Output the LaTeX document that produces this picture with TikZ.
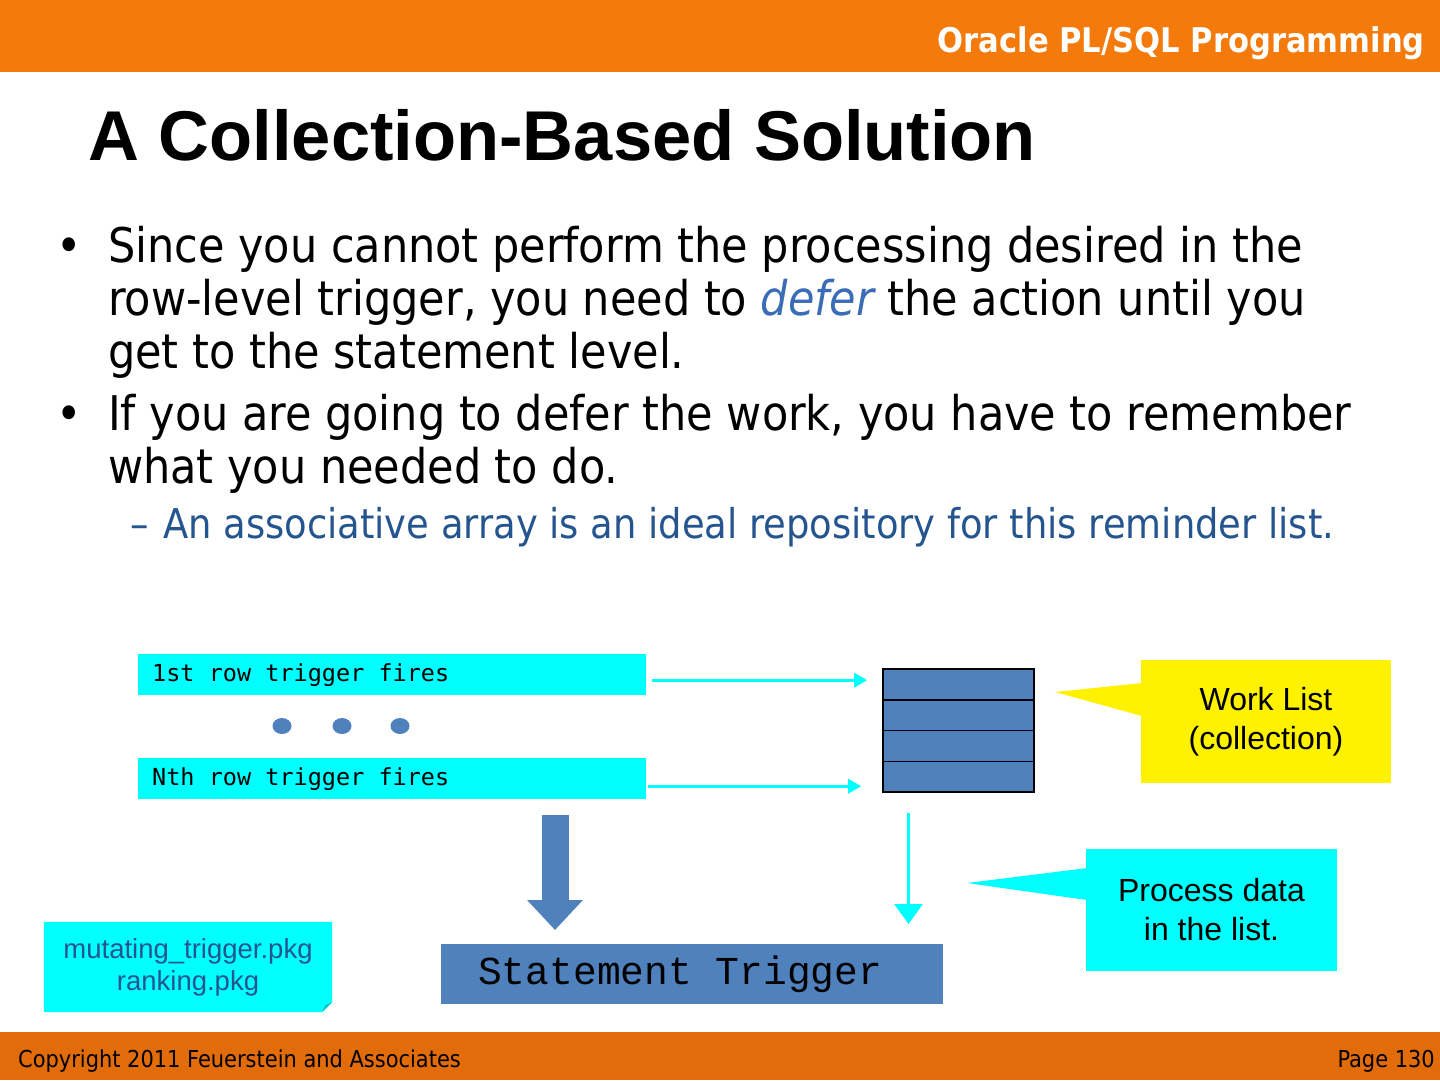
\documentclass[tikz,border=0pt]{standalone}
\usepackage{fontspec}
\setmainfont{DejaVu Sans Condensed}
\newfontfamily\titlefont{Liberation Sans}
\newfontfamily\calloutfont{Liberation Sans}
\newfontfamily\rowfont{DejaVu Sans Mono}
\newfontfamily\stmtfont{Liberation Mono}
\usepackage{tikz}
\usetikzlibrary{arrows.meta,positioning,calc,shapes.geometric,backgrounds}
\definecolor{headorange}{HTML}{F47A0C}
\definecolor{footorange}{HTML}{E36C0A}
\definecolor{plsqlblue}{HTML}{4F81BD}
\definecolor{subblue}{HTML}{24558F}
\definecolor{deferblue}{HTML}{3A6DB5}
\definecolor{notecyan}{HTML}{00FFFF}
\definecolor{foldcyan}{HTML}{00C8C8}
% one character cell of the code fonts
\newcommand\codegap{\kern\fontcharwd\font`\M\relax}

\begin{document}
\begin{tikzpicture}[
  x=1pt,y=-1pt,
  bar/.style={anchor=north west,minimum width=1440pt,inner sep=0pt,outer sep=0pt},
  rowbox/.style={anchor=north west,fill=notecyan,minimum height=41pt,text width=480pt,inner xsep=14pt,inner ysep=0pt,align=left,font=\rowfont\fontsize{23.5}{28}\selectfont},
  cell/.style={draw=black,line width=1.6pt,fill=plsqlblue,minimum width=151pt,minimum height=30.75pt,inner sep=0pt},
  dot/.style={ellipse,fill=plsqlblue,minimum width=19pt,minimum height=16pt,inner sep=0pt},
  callbox/.style={minimum width=250pt,minimum height=123pt,align=center,inner sep=0pt,font=\calloutfont\fontsize{32}{39}\selectfont},
  cyanarrow/.style={-{Triangle[width=14pt,length=13pt]},line width=3pt,draw=notecyan},
  bigarrow/.style={-{Triangle[width=54pt,length=30pt]},line width=27pt,draw=plsqlblue},
  bodytext/.style={anchor=base west,align=left,inner sep=0pt,font=\fontsize{47.8}{53}\selectfont},
  subtext/.style={anchor=base west,inner sep=0pt,text=subblue,font=\fontsize{41}{48}\selectfont}
]
\useasboundingbox (0,0) rectangle (1440,1080);

% header and title
\node[bar,fill=headorange,minimum height=72pt] (header) at (0,0) {};
\node[anchor=base east,text=white,inner sep=0pt,font=\bfseries\fontsize{34}{40}\selectfont] (course) at (1425,52) {Oracle PL/SQL Programming};
\node[anchor=base west,inner sep=0pt,font=\titlefont\bfseries\fontsize{70.5}{80}\selectfont] (title) at (88,160) {A Collection-Based Solution};

% bullets (base = last line)
\node[bodytext] (b1dot) at (56,262) {•};
\node[bodytext] (b1) at (108,368) {Since you cannot perform the processing desired in the\\
  row-level trigger, you need to \textcolor{deferblue}{\itshape defer} the action until you\\
  get to the statement level.};
\node[bodytext] (b2dot) at (56,430) {•};
\node[bodytext] (b2) at (108,483) {If you are going to defer the work, you have to remember\\
  what you needed to do.};
\node[subtext] (s1dash) at (130,538) {–};
\node[subtext] (s1) at (163,538) {An associative array is an ideal repository for this reminder list.};

% row triggers
\node[rowbox] (first) at (138,654) {1st\codegap row\codegap trigger\codegap fires};
\node[rowbox] (nth) at (138,758) {Nth\codegap row\codegap trigger\codegap fires};
\foreach \i/\x in {1/282,2/342,3/400}
  \node[dot] (dot\i) at (\x,726) {};

% work list
\foreach \i in {0,...,3}
  \node[cell] (cell\i) at (958.5,684.5+30.75*\i) {};

\draw[cyanarrow] ([xshift=6pt,yshift=-5.5pt]first.east) -- ([xshift=-15pt,yshift=-5.5pt]first.east -| cell0.west);
\draw[cyanarrow] ([xshift=2pt,yshift=-7.5pt]nth.east) -- ([xshift=-21pt,yshift=-7.5pt]nth.east -| cell3.west);

% callouts
\node[callbox,fill=yellow] (worklist) at (1266,721.5) {Work List\\(collection)};
\coordinate (wltip) at (1055,692);
\fill[yellow] ([xshift=1pt,yshift=38.5pt]worklist.west) -- (wltip) -- ([xshift=1pt,yshift=5.5pt]worklist.west) -- cycle;

\node[callbox,fill=notecyan,minimum width=251pt,minimum height=122pt] (process) at (1211.5,910) {Process data\\in the list.};
\coordinate (pdtip) at (967,883);
\fill[notecyan] ([xshift=1pt,yshift=42pt]process.west) -- (pdtip) -- ([xshift=1pt,yshift=10pt]process.west) -- cycle;

% statement trigger
\node[anchor=north west,fill=plsqlblue,minimum width=502pt,minimum height=60pt,text width=428pt,inner xsep=37pt,inner ysep=0pt,align=left,font=\stmtfont\fontsize{39.6}{44}\selectfont] (stmt) at (441,944) {Statement\codegap Trigger};

\coordinate (bigstart) at (555,815);
\draw[bigarrow,shorten >=14pt] (bigstart) -- (bigstart |- stmt.north);
\coordinate (pstart) at ([xshift=-50pt,yshift=-20pt]cell3.south);
\draw[cyanarrow,-{Triangle[width=28pt,length=20pt]},shorten >=20pt] (pstart) -- (pstart |- stmt.north);

% package note
\node[minimum width=288pt,minimum height=90pt,inner sep=0pt,align=center,text=subblue,font=\calloutfont\fontsize{27.5}{32}\selectfont] (pkgnote) at (188,967) {mutating\_trigger.pkg\\ranking.pkg};
\begin{scope}[on background layer]
  \fill[notecyan] (pkgnote.north west) -- (pkgnote.north east) -- ([yshift=10pt]pkgnote.south east) -- ([xshift=-10pt]pkgnote.south east) -- (pkgnote.south west) -- cycle;
  \fill[foldcyan] ([yshift=10pt]pkgnote.south east) -- ([xshift=-10pt]pkgnote.south east) -- ([xshift=-7pt,yshift=7pt]pkgnote.south east) -- cycle;
\end{scope}

% footer
\node[bar,fill=footorange,minimum height=48pt] (footer) at (0,1032) {};
\node[anchor=base west,inner sep=0pt,font=\fontsize{23.3}{26}\selectfont] (copyright) at (18,1067) {Copyright 2011 Feuerstein and Associates};
\node[anchor=base east,inner sep=0pt,font=\fontsize{23.3}{26}\selectfont] (page) at (1435,1067) {Page 130};
\end{tikzpicture}
\end{document}
